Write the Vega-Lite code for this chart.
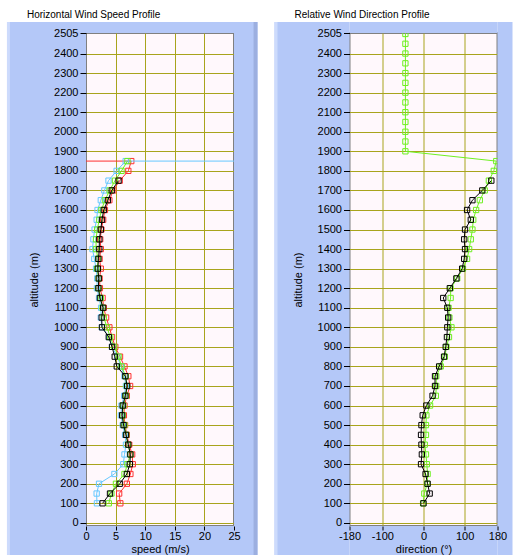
{
  "$schema": "https://vega.github.io/schema/vega-lite/v6.json",
  "background": "#ffffff",
  "padding": {"left": 5, "top": 8, "right": 0, "bottom": 0},
  "spacing": 14.5,
  "config": {
    "view": {"fill": "#fff8fc", "stroke": "#808080", "strokeWidth": 2},
    "axis": {
      "labelFont": "Liberation Sans", "labelFontSize": 11, "labelColor": "#000000",
      "titleFont": "Liberation Sans", "titleFontSize": 11, "titleFontWeight": "normal", "titleColor": "#000000",
      "tickColor": "#000000", "labelFlush": false, "labelOverlap": false,
      "gridColor": "#a8a41c", "gridWidth": 1, "gridOpacity": 1
    },
    "title": {"font": "Liberation Sans", "fontSize": 10, "fontWeight": "normal", "color": "#000000", "anchor": "start", "frame": "bounds", "dx": 20, "offset": 2}
  },
  "datasets": {
    "speed": [
      {"series": "red", "altitude": 100, "speed": 5.8}, {"series": "red", "altitude": 150, "speed": 5.6}, {"series": "red", "altitude": 200, "speed": 6.9}, {"series": "red", "altitude": 250, "speed": 7.5},
      {"series": "red", "altitude": 300, "speed": 7.9}, {"series": "red", "altitude": 350, "speed": 7.8}, {"series": "red", "altitude": 400, "speed": 7.3}, {"series": "red", "altitude": 450, "speed": 6.9},
      {"series": "red", "altitude": 500, "speed": 6.6}, {"series": "red", "altitude": 550, "speed": 6.4}, {"series": "red", "altitude": 600, "speed": 6.5}, {"series": "red", "altitude": 650, "speed": 6.9},
      {"series": "red", "altitude": 700, "speed": 7.45}, {"series": "red", "altitude": 750, "speed": 7.15}, {"series": "red", "altitude": 800, "speed": 6.5}, {"series": "red", "altitude": 850, "speed": 5.75},
      {"series": "red", "altitude": 900, "speed": 4.95}, {"series": "red", "altitude": 950, "speed": 4.4}, {"series": "red", "altitude": 1000, "speed": 3.95}, {"series": "red", "altitude": 1050, "speed": 3.4},
      {"series": "red", "altitude": 1100, "speed": 3.0}, {"series": "red", "altitude": 1150, "speed": 2.8}, {"series": "red", "altitude": 1200, "speed": 2.35}, {"series": "red", "altitude": 1250, "speed": 2.3},
      {"series": "red", "altitude": 1300, "speed": 2.5}, {"series": "red", "altitude": 1350, "speed": 2.3}, {"series": "red", "altitude": 1400, "speed": 2.5}, {"series": "red", "altitude": 1450, "speed": 2.4},
      {"series": "red", "altitude": 1500, "speed": 2.6}, {"series": "red", "altitude": 1550, "speed": 2.9}, {"series": "red", "altitude": 1600, "speed": 3.2}, {"series": "red", "altitude": 1650, "speed": 3.95},
      {"series": "red", "altitude": 1700, "speed": 4.6}, {"series": "red", "altitude": 1750, "speed": 5.7}, {"series": "red", "altitude": 1800, "speed": 7.15}, {"series": "red", "altitude": 1850, "speed": 7.65},
      {"series": "red", "altitude": 1850, "speed": -5},
      {"series": "cyan", "altitude": 100, "speed": 1.85}, {"series": "cyan", "altitude": 150, "speed": 1.8}, {"series": "cyan", "altitude": 200, "speed": 2.2}, {"series": "cyan", "altitude": 250, "speed": 4.8},
      {"series": "cyan", "altitude": 300, "speed": 6.3}, {"series": "cyan", "altitude": 350, "speed": 6.5}, {"series": "cyan", "altitude": 400, "speed": 6.75}, {"series": "cyan", "altitude": 450, "speed": 6.6},
      {"series": "cyan", "altitude": 500, "speed": 6.2}, {"series": "cyan", "altitude": 550, "speed": 5.9}, {"series": "cyan", "altitude": 600, "speed": 6.0}, {"series": "cyan", "altitude": 650, "speed": 6.45},
      {"series": "cyan", "altitude": 700, "speed": 6.75}, {"series": "cyan", "altitude": 750, "speed": 6.5}, {"series": "cyan", "altitude": 800, "speed": 5.9}, {"series": "cyan", "altitude": 850, "speed": 5.3},
      {"series": "cyan", "altitude": 900, "speed": 4.4}, {"series": "cyan", "altitude": 950, "speed": 3.9}, {"series": "cyan", "altitude": 1000, "speed": 2.7}, {"series": "cyan", "altitude": 1050, "speed": 2.5},
      {"series": "cyan", "altitude": 1100, "speed": 2.55}, {"series": "cyan", "altitude": 1150, "speed": 2.2}, {"series": "cyan", "altitude": 1200, "speed": 1.85}, {"series": "cyan", "altitude": 1250, "speed": 1.9},
      {"series": "cyan", "altitude": 1300, "speed": 1.7}, {"series": "cyan", "altitude": 1350, "speed": 1.4}, {"series": "cyan", "altitude": 1400, "speed": 1.1}, {"series": "cyan", "altitude": 1450, "speed": 1.25},
      {"series": "cyan", "altitude": 1500, "speed": 1.45}, {"series": "cyan", "altitude": 1550, "speed": 1.8}, {"series": "cyan", "altitude": 1600, "speed": 1.95}, {"series": "cyan", "altitude": 1650, "speed": 2.5},
      {"series": "cyan", "altitude": 1700, "speed": 3.1}, {"series": "cyan", "altitude": 1750, "speed": 3.8}, {"series": "cyan", "altitude": 1800, "speed": 5.17}, {"series": "cyan", "altitude": 1850, "speed": 6.7},
      {"series": "cyan", "altitude": 1850, "speed": 30},
      {"series": "green", "altitude": 100, "speed": 3.85}, {"series": "green", "altitude": 150, "speed": 4.3}, {"series": "green", "altitude": 200, "speed": 5.06}, {"series": "green", "altitude": 250, "speed": 6.5},
      {"series": "green", "altitude": 300, "speed": 7.0}, {"series": "green", "altitude": 350, "speed": 7.5}, {"series": "green", "altitude": 400, "speed": 7.1}, {"series": "green", "altitude": 450, "speed": 6.8},
      {"series": "green", "altitude": 500, "speed": 6.5}, {"series": "green", "altitude": 550, "speed": 6.2}, {"series": "green", "altitude": 600, "speed": 6.3}, {"series": "green", "altitude": 650, "speed": 6.75},
      {"series": "green", "altitude": 700, "speed": 6.9}, {"series": "green", "altitude": 750, "speed": 6.7}, {"series": "green", "altitude": 800, "speed": 6.0}, {"series": "green", "altitude": 850, "speed": 5.5},
      {"series": "green", "altitude": 900, "speed": 4.75}, {"series": "green", "altitude": 950, "speed": 4.1}, {"series": "green", "altitude": 1000, "speed": 3.55}, {"series": "green", "altitude": 1050, "speed": 3.0},
      {"series": "green", "altitude": 1100, "speed": 2.8}, {"series": "green", "altitude": 1150, "speed": 2.5}, {"series": "green", "altitude": 1200, "speed": 2.1}, {"series": "green", "altitude": 1250, "speed": 2.15},
      {"series": "green", "altitude": 1300, "speed": 1.9}, {"series": "green", "altitude": 1350, "speed": 2.05}, {"series": "green", "altitude": 1400, "speed": 1.7}, {"series": "green", "altitude": 1450, "speed": 1.7},
      {"series": "green", "altitude": 1500, "speed": 1.9}, {"series": "green", "altitude": 1550, "speed": 2.25}, {"series": "green", "altitude": 1600, "speed": 2.6}, {"series": "green", "altitude": 1650, "speed": 3.2},
      {"series": "green", "altitude": 1700, "speed": 4.0}, {"series": "green", "altitude": 1750, "speed": 4.9}, {"series": "green", "altitude": 1800, "speed": 6.0}, {"series": "green", "altitude": 1850, "speed": 7.0},
      {"series": "black", "altitude": 100, "speed": 2.8}, {"series": "black", "altitude": 150, "speed": 4.05}, {"series": "black", "altitude": 200, "speed": 5.7}, {"series": "black", "altitude": 250, "speed": 6.9},
      {"series": "black", "altitude": 300, "speed": 7.4}, {"series": "black", "altitude": 350, "speed": 7.5}, {"series": "black", "altitude": 400, "speed": 7.15}, {"series": "black", "altitude": 450, "speed": 6.75},
      {"series": "black", "altitude": 500, "speed": 6.35}, {"series": "black", "altitude": 550, "speed": 6.1}, {"series": "black", "altitude": 600, "speed": 6.2}, {"series": "black", "altitude": 650, "speed": 6.65},
      {"series": "black", "altitude": 700, "speed": 6.95}, {"series": "black", "altitude": 750, "speed": 6.65}, {"series": "black", "altitude": 800, "speed": 5.2}, {"series": "black", "altitude": 850, "speed": 4.85},
      {"series": "black", "altitude": 900, "speed": 4.4}, {"series": "black", "altitude": 950, "speed": 3.85}, {"series": "black", "altitude": 1000, "speed": 2.7}, {"series": "black", "altitude": 1050, "speed": 2.65},
      {"series": "black", "altitude": 1100, "speed": 2.9}, {"series": "black", "altitude": 1150, "speed": 2.35}, {"series": "black", "altitude": 1200, "speed": 2.1}, {"series": "black", "altitude": 1250, "speed": 2.15},
      {"series": "black", "altitude": 1300, "speed": 2.0}, {"series": "black", "altitude": 1350, "speed": 2.1}, {"series": "black", "altitude": 1400, "speed": 2.25}, {"series": "black", "altitude": 1450, "speed": 2.25},
      {"series": "black", "altitude": 1500, "speed": 2.5}, {"series": "black", "altitude": 1550, "speed": 2.7}, {"series": "black", "altitude": 1600, "speed": 3.0}, {"series": "black", "altitude": 1650, "speed": 3.7},
      {"series": "black", "altitude": 1700, "speed": 4.35}, {"series": "black", "altitude": 1750, "speed": 5.5}
    ],
    "direction": [
      {"series": "green", "altitude": 100, "direction": -1}, {"series": "green", "altitude": 150, "direction": 2}, {"series": "green", "altitude": 200, "direction": 9}, {"series": "green", "altitude": 250, "direction": 10},
      {"series": "green", "altitude": 300, "direction": 8}, {"series": "green", "altitude": 350, "direction": 6}, {"series": "green", "altitude": 400, "direction": 3}, {"series": "green", "altitude": 450, "direction": 6},
      {"series": "green", "altitude": 500, "direction": 6}, {"series": "green", "altitude": 550, "direction": 7}, {"series": "green", "altitude": 600, "direction": 16}, {"series": "green", "altitude": 650, "direction": 30},
      {"series": "green", "altitude": 700, "direction": 31}, {"series": "green", "altitude": 750, "direction": 31}, {"series": "green", "altitude": 800, "direction": 42}, {"series": "green", "altitude": 850, "direction": 52},
      {"series": "green", "altitude": 900, "direction": 56}, {"series": "green", "altitude": 950, "direction": 62}, {"series": "green", "altitude": 1000, "direction": 68}, {"series": "green", "altitude": 1050, "direction": 63},
      {"series": "green", "altitude": 1100, "direction": 61}, {"series": "green", "altitude": 1150, "direction": 66}, {"series": "green", "altitude": 1200, "direction": 66}, {"series": "green", "altitude": 1250, "direction": 82},
      {"series": "green", "altitude": 1300, "direction": 96}, {"series": "green", "altitude": 1350, "direction": 106}, {"series": "green", "altitude": 1400, "direction": 111}, {"series": "green", "altitude": 1450, "direction": 115},
      {"series": "green", "altitude": 1500, "direction": 119}, {"series": "green", "altitude": 1550, "direction": 121}, {"series": "green", "altitude": 1600, "direction": 128}, {"series": "green", "altitude": 1650, "direction": 137},
      {"series": "green", "altitude": 1700, "direction": 149}, {"series": "green", "altitude": 1750, "direction": 159}, {"series": "green", "altitude": 1800, "direction": 171}, {"series": "green", "altitude": 1850, "direction": 177},
      {"series": "green", "altitude": 1900, "direction": -44}, {"series": "green", "altitude": 1950, "direction": -44}, {"series": "green", "altitude": 2000, "direction": -44}, {"series": "green", "altitude": 2050, "direction": -44},
      {"series": "green", "altitude": 2100, "direction": -44}, {"series": "green", "altitude": 2150, "direction": -44}, {"series": "green", "altitude": 2200, "direction": -44}, {"series": "green", "altitude": 2250, "direction": -44},
      {"series": "green", "altitude": 2300, "direction": -44}, {"series": "green", "altitude": 2350, "direction": -44}, {"series": "green", "altitude": 2400, "direction": -44}, {"series": "green", "altitude": 2450, "direction": -44},
      {"series": "green", "altitude": 2500, "direction": -44}, {"series": "green", "altitude": 2550, "direction": -44},
      {"series": "black", "altitude": 100, "direction": 0}, {"series": "black", "altitude": 150, "direction": 15}, {"series": "black", "altitude": 200, "direction": 10}, {"series": "black", "altitude": 250, "direction": 5},
      {"series": "black", "altitude": 300, "direction": -6}, {"series": "black", "altitude": 350, "direction": -4}, {"series": "black", "altitude": 400, "direction": -5}, {"series": "black", "altitude": 450, "direction": -6},
      {"series": "black", "altitude": 500, "direction": -5}, {"series": "black", "altitude": 550, "direction": -2}, {"series": "black", "altitude": 600, "direction": 7}, {"series": "black", "altitude": 650, "direction": 22},
      {"series": "black", "altitude": 700, "direction": 28}, {"series": "black", "altitude": 750, "direction": 28}, {"series": "black", "altitude": 800, "direction": 38}, {"series": "black", "altitude": 850, "direction": 50},
      {"series": "black", "altitude": 900, "direction": 54}, {"series": "black", "altitude": 950, "direction": 57}, {"series": "black", "altitude": 1000, "direction": 58}, {"series": "black", "altitude": 1050, "direction": 60},
      {"series": "black", "altitude": 1100, "direction": 58}, {"series": "black", "altitude": 1150, "direction": 48}, {"series": "black", "altitude": 1200, "direction": 64}, {"series": "black", "altitude": 1250, "direction": 80},
      {"series": "black", "altitude": 1300, "direction": 94}, {"series": "black", "altitude": 1350, "direction": 99}, {"series": "black", "altitude": 1400, "direction": 101}, {"series": "black", "altitude": 1450, "direction": 99},
      {"series": "black", "altitude": 1500, "direction": 101}, {"series": "black", "altitude": 1550, "direction": 115}, {"series": "black", "altitude": 1600, "direction": 106}, {"series": "black", "altitude": 1650, "direction": 119},
      {"series": "black", "altitude": 1700, "direction": 143}, {"series": "black", "altitude": 1750, "direction": 165}
    ]
  },
  "hconcat": [
    {
      "title": {"text": "Horizontal Wind Speed Profile"},
      "width": 148,
      "height": 493,
      "data": {"name": "speed"},
      "resolve": {"axis": {"x": "independent", "y": "independent"}},
      "layer": [
        {
          "data": {"values": [{}]},
          "mark": {"type": "rect", "color": "#b4c8f8", "clip": false},
          "encoding": {
            "x": {"datum": -13.35, "type": "quantitative", "scale": {"domain": [0, 25], "nice": false, "zero": false}, "axis": null}, "x2": {"datum": 0},
            "y": {"datum": -164.3, "type": "quantitative", "scale": {"domain": [-16, 2505], "nice": false, "zero": false}, "axis": null}, "y2": {"datum": 2561.3}
          }
        },
        {
          "data": {"values": [{}]},
          "mark": {"type": "rect", "color": "#cddbfc", "clip": false},
          "encoding": {
            "x": {"datum": -13.35, "type": "quantitative", "axis": null}, "x2": {"datum": -12.85},
            "y": {"datum": -164.3, "type": "quantitative", "axis": null}, "y2": {"datum": 2561.3}
          }
        },
        {
          "data": {"values": [{}]},
          "mark": {"type": "rect", "color": "#b4c8f8", "clip": false},
          "encoding": {
            "x": {"datum": 25, "type": "quantitative", "axis": null}, "x2": {"datum": 28.97},
            "y": {"datum": -164.3, "type": "quantitative", "axis": null}, "y2": {"datum": 2561.3}
          }
        },
        {
          "data": {"values": [{}]},
          "mark": {"type": "rect", "color": "#9cafe0", "clip": false},
          "encoding": {
            "x": {"datum": 28.3, "type": "quantitative", "axis": null}, "x2": {"datum": 28.97},
            "y": {"datum": -164.3, "type": "quantitative", "axis": null}, "y2": {"datum": 2561.3}
          }
        },
        {
          "data": {"values": [{}]},
          "mark": {"type": "rect", "color": "#b4c8f8", "clip": false},
          "encoding": {
            "x": {"datum": 0, "type": "quantitative", "axis": null}, "x2": {"datum": 25},
            "y": {"datum": 2505, "type": "quantitative", "axis": null}, "y2": {"datum": 2561.3}
          }
        },
        {
          "data": {"values": [{}]},
          "mark": {"type": "rect", "color": "#b4c8f8", "clip": false},
          "encoding": {
            "x": {"datum": 0, "type": "quantitative", "axis": null}, "x2": {"datum": 25},
            "y": {"datum": -164.3, "type": "quantitative", "axis": null}, "y2": {"datum": -16}
          }
        },
        {
          "transform": [{"filter": "datum.series === 'red'"}],
          "mark": {"type": "line", "color": "#ff3030", "strokeWidth": 1, "clip": true},
          "encoding": {
            "x": {"field": "speed", "type": "quantitative",
              "axis": {"orient": "bottom", "grid": true, "values": [5, 10, 15, 20], "ticks": false, "labels": false, "domain": false, "title": null}},
            "y": {"field": "altitude", "type": "quantitative",
              "axis": {"orient": "left", "grid": true, "values": [0, 100, 200, 300, 400, 500, 600, 700, 800, 900, 1000, 1100, 1200, 1300, 1400, 1500, 1600, 1700, 1800, 1900, 2000, 2100, 2200, 2300, 2400], "ticks": false, "labels": false, "domain": false, "title": null}},
            "order": {"value": null}
          }
        },
        {
          "transform": [{"filter": "datum.series === 'red'"}],
          "mark": {"type": "point", "shape": "square", "filled": false, "size": 28, "strokeWidth": 1, "color": "#ff3030", "opacity": 1, "clip": true},
          "encoding": {
            "x": {"field": "speed", "type": "quantitative", "axis": null},
            "y": {"field": "altitude", "type": "quantitative", "axis": null}
          }
        },
        {
          "transform": [{"filter": "datum.series === 'cyan'"}],
          "mark": {"type": "line", "color": "#66c8ff", "strokeWidth": 1, "clip": true},
          "encoding": {
            "x": {"field": "speed", "type": "quantitative",
              "axis": {"orient": "bottom", "values": [0, 5, 10, 15, 20, 25], "domain": false, "grid": false, "tickSize": 4, "labelPadding": 0, "title": "speed (m/s)", "titlePadding": 2, "zindex": 1}},
            "y": {"field": "altitude", "type": "quantitative",
              "axis": {"orient": "left", "values": [0, 100, 200, 300, 400, 500, 600, 700, 800, 900, 1000, 1100, 1200, 1300, 1400, 1500, 1600, 1700, 1800, 1900, 2000, 2100, 2200, 2300, 2400, 2505], "format": "d", "domain": false, "grid": false, "tickSize": 6, "labelPadding": 2, "title": "altitude (m)", "titlePadding": 14, "zindex": 1}},
            "order": {"value": null}
          }
        },
        {
          "transform": [{"filter": "datum.series === 'cyan'"}],
          "mark": {"type": "point", "shape": "square", "filled": false, "size": 28, "strokeWidth": 1, "color": "#66c8ff", "opacity": 1, "clip": true},
          "encoding": {
            "x": {"field": "speed", "type": "quantitative", "axis": null},
            "y": {"field": "altitude", "type": "quantitative", "axis": null}
          }
        },
        {
          "transform": [{"filter": "datum.series === 'green'"}],
          "mark": {"type": "line", "color": "#6ef020", "strokeWidth": 1, "clip": true},
          "encoding": {
            "x": {"field": "speed", "type": "quantitative", "axis": null},
            "y": {"field": "altitude", "type": "quantitative", "axis": null},
            "order": {"value": null}
          }
        },
        {
          "transform": [{"filter": "datum.series === 'green'"}],
          "mark": {"type": "point", "shape": "square", "filled": false, "size": 28, "strokeWidth": 1, "color": "#6ef020", "opacity": 1, "clip": true},
          "encoding": {
            "x": {"field": "speed", "type": "quantitative", "axis": null},
            "y": {"field": "altitude", "type": "quantitative", "axis": null}
          }
        },
        {
          "transform": [{"filter": "datum.series === 'black'"}],
          "mark": {"type": "line", "color": "#000000", "strokeWidth": 1, "clip": true},
          "encoding": {
            "x": {"field": "speed", "type": "quantitative", "axis": null},
            "y": {"field": "altitude", "type": "quantitative", "axis": null},
            "order": {"value": null}
          }
        },
        {
          "transform": [{"filter": "datum.series === 'black'"}],
          "mark": {"type": "point", "shape": "square", "filled": false, "size": 28, "strokeWidth": 1, "color": "#000000", "opacity": 1, "clip": true},
          "encoding": {
            "x": {"field": "speed", "type": "quantitative", "axis": null},
            "y": {"field": "altitude", "type": "quantitative", "axis": null}
          }
        }
      ]
    },
    {
      "title": {"text": "Relative Wind Direction Profile"},
      "width": 148,
      "height": 493,
      "data": {"name": "direction"},
      "resolve": {"axis": {"x": "independent", "y": "independent"}},
      "layer": [
        {
          "data": {"values": [{}]},
          "mark": {"type": "rect", "color": "#b4c8f8", "clip": false},
          "encoding": {
            "x": {"datum": -362.4, "type": "quantitative", "scale": {"domain": [-180, 180], "nice": false, "zero": false}, "axis": null}, "x2": {"datum": -180},
            "y": {"datum": -164.3, "type": "quantitative", "scale": {"domain": [-16, 2505], "nice": false, "zero": false}, "axis": null}, "y2": {"datum": 2561.3}
          }
        },
        {
          "data": {"values": [{}]},
          "mark": {"type": "rect", "color": "#cddbfc", "clip": false},
          "encoding": {
            "x": {"datum": -362.4, "type": "quantitative", "axis": null}, "x2": {"datum": -355.1},
            "y": {"datum": -164.3, "type": "quantitative", "axis": null}, "y2": {"datum": 2561.3}
          }
        },
        {
          "data": {"values": [{}]},
          "mark": {"type": "rect", "color": "#b4c8f8", "clip": false},
          "encoding": {
            "x": {"datum": 180, "type": "quantitative", "axis": null}, "x2": {"datum": 216.5},
            "y": {"datum": -164.3, "type": "quantitative", "axis": null}, "y2": {"datum": 2561.3}
          }
        },
        {
          "data": {"values": [{}]},
          "mark": {"type": "rect", "color": "#b4c8f8", "clip": false},
          "encoding": {
            "x": {"datum": -180, "type": "quantitative", "axis": null}, "x2": {"datum": 180},
            "y": {"datum": 2505, "type": "quantitative", "axis": null}, "y2": {"datum": 2561.3}
          }
        },
        {
          "data": {"values": [{}]},
          "mark": {"type": "rect", "color": "#b4c8f8", "clip": false},
          "encoding": {
            "x": {"datum": -180, "type": "quantitative", "axis": null}, "x2": {"datum": 180},
            "y": {"datum": -164.3, "type": "quantitative", "axis": null}, "y2": {"datum": -16}
          }
        },
        {
          "transform": [{"filter": "datum.series === 'green'"}],
          "mark": {"type": "line", "color": "#6ef020", "strokeWidth": 1, "clip": true},
          "encoding": {
            "x": {"field": "direction", "type": "quantitative",
              "axis": {"orient": "bottom", "grid": true, "values": [-100, 0, 100], "ticks": false, "labels": false, "domain": false, "title": null}},
            "y": {"field": "altitude", "type": "quantitative",
              "axis": {"orient": "left", "grid": true, "values": [0, 100, 200, 300, 400, 500, 600, 700, 800, 900, 1000, 1100, 1200, 1300, 1400, 1500, 1600, 1700, 1800, 1900, 2000, 2100, 2200, 2300, 2400], "ticks": false, "labels": false, "domain": false, "title": null}},
            "order": {"value": null}
          }
        },
        {
          "transform": [{"filter": "datum.series === 'green'"}],
          "mark": {"type": "point", "shape": "square", "filled": false, "size": 28, "strokeWidth": 1, "color": "#6ef020", "opacity": 1, "clip": true},
          "encoding": {
            "x": {"field": "direction", "type": "quantitative", "axis": null},
            "y": {"field": "altitude", "type": "quantitative", "axis": null}
          }
        },
        {
          "transform": [{"filter": "datum.series === 'black'"}],
          "mark": {"type": "line", "color": "#000000", "strokeWidth": 1, "clip": true},
          "encoding": {
            "x": {"field": "direction", "type": "quantitative",
              "axis": {"orient": "bottom", "values": [-180, -100, 0, 100, 180], "labelExpr": "datum.value + ''", "domain": false, "grid": false, "tickSize": 4, "labelPadding": 0, "title": "direction (°)", "titlePadding": 2, "zindex": 1}},
            "y": {"field": "altitude", "type": "quantitative",
              "axis": {"orient": "left", "values": [0, 100, 200, 300, 400, 500, 600, 700, 800, 900, 1000, 1100, 1200, 1300, 1400, 1500, 1600, 1700, 1800, 1900, 2000, 2100, 2200, 2300, 2400, 2505], "format": "d", "domain": false, "grid": false, "tickSize": 6, "labelPadding": 2, "title": "altitude (m)", "titlePadding": 14, "zindex": 1}},
            "order": {"value": null}
          }
        },
        {
          "transform": [{"filter": "datum.series === 'black'"}],
          "mark": {"type": "point", "shape": "square", "filled": false, "size": 28, "strokeWidth": 1, "color": "#000000", "opacity": 1, "clip": true},
          "encoding": {
            "x": {"field": "direction", "type": "quantitative", "axis": null},
            "y": {"field": "altitude", "type": "quantitative", "axis": null}
          }
        }
      ]
    }
  ]
}
